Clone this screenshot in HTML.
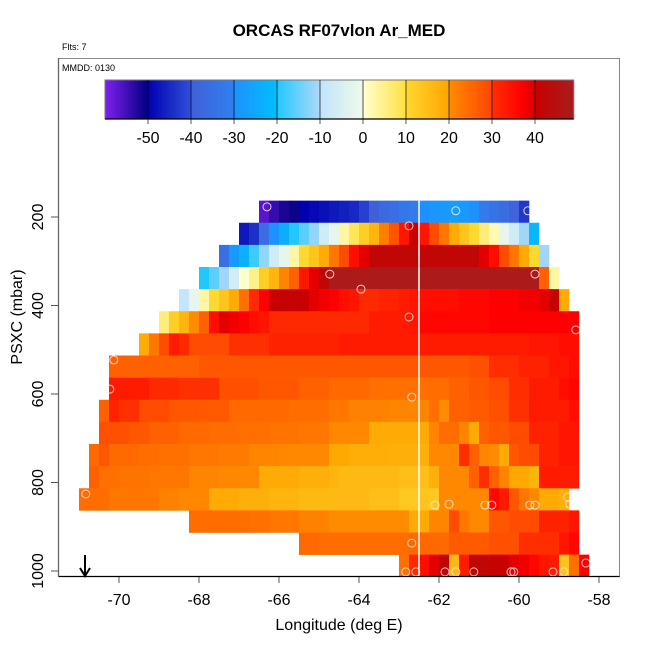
<!DOCTYPE html>
<html><head><meta charset="utf-8"><style>
html,body{margin:0;padding:0;background:#fff;}
svg{display:block;font-family:"Liberation Sans",Arial,sans-serif;}
</style></head><body>
<svg id="chart" width="650" height="650" viewBox="0 0 650 650" xmlns="http://www.w3.org/2000/svg">
<text x="339" y="36" text-anchor="middle" font-size="17" font-weight="bold">ORCAS RF07vlon Ar_MED</text>
<text x="62" y="50" font-size="9">Flts: 7</text>
<rect x="58.5" y="58.5" width="561" height="518" fill="none" stroke="#888" stroke-width="1"/>
<text x="62" y="71" font-size="9">MMDD: 0130</text>
<g id="colorbar"></g>
<g id="cells"></g>
<g id="circles"></g>
<g id="axes"></g>
<text x="339" y="630" text-anchor="middle" font-size="16">Longitude (deg E)</text>
<text x="0" y="0" transform="translate(22,317) rotate(-90)" text-anchor="middle" font-size="16">PSXC (mbar)</text>
<g>
<line x1="85" y1="555" x2="85" y2="575" stroke="#000" stroke-width="2"/>
<polyline points="80,568 85,576 90,568" fill="none" stroke="#000" stroke-width="2"/>
</g>
</svg>
<script>
const rowStart = [18,16,14,12,10,8,6,3,3,2,2,1,1,0,11,22,32];
function rep(v,n){return Array(n).fill(v);}
const row0 = [-57,-54,-52,-51,-50,-49,-48,-47,-46,-45,-42,-40,-37,-35,-33,-32,-30,-29,-28,-27,-28,-30,-32,-34,-36,-39,-43];
const row1 = [-47,-44,-36,-30,-24,-20,-16,-12,-7,-2,3,8,12,17,22,28,34,40,34,29,23,19,14,10,6,2,-2,-7,-11,-22];
const row2 = [-35,-28,-23,-18,-12,-7,-2,3,10,14,19,23,29,35,39,42,42,42,42,42,42,42,42,42,42,42,39,35,29,23,19,10,-11];
const row3 = [-20,-16,-11,-6,0,5,12,17,21,26,34,39,42].concat(rep(48,21),[26,3]);
const row4 = [-9,-2,3,10,14,19,24,31,37,40,41,41,40,39,38,37,35,34,31,31,32,32,33,34,35,35,35,35,36,36,36,37,37,37,38,38,39,41,19];
const row5 = [6,12,17,20,26,35,39,38,37,35,34].concat(rep(31,10),rep(33,4),[34],rep(36,7),rep(37,9));
const row6 = [19,23,29,33,31].concat(rep(29,4),rep(30,4),rep(32,7),rep(33,19),rep(34,3),rep(35,2));
const row7 = rep(26,9).concat(rep(27.5,27),rep(28.5,2),rep(30.5,3),rep(32,3),rep(34,2),[35]);
const row8 = rep(33,4).concat(rep(31,3),rep(30,4),rep(28.5,4),rep(27.5,4),rep(26,3),rep(25,4),rep(24,4),[24,24,24.5,24.5,26,26,27.5,27.5,29,29,30.5,30.5,33,33,33,35,36]);
const row9 = [26,32,30,30,29,29,29,27.5,27.5,27.5,27,27,27].concat(rep(25,6),rep(24.5,4),[23,23],rep(21.5,4),rep(21,4),[24,20,26,26,27,27,28.5,28.5,30,30,33,33,33,33,35]);
const row10 = [28.5,28.5,28.5,27.5,27.5,26,26,26,25,25,25,24.5,24.5,24.5,24,24,24,23.5,23.5,23.5,23,23,23].concat(rep(20.5,4),rep(19,6),[21,24.5,24.5,21,19,26,27.5,27.5,29,29,32,32,32,34,34]);
const row11 = [25,27.5,25,25,25,24.5,24.5,24,24,24,23,23,23,22.5,22.5,22.5,21,21,21].concat(rep(20.5,5),[19.5,19.5],rep(18.5,4),rep(18,4),[20.5,20.5,20.5,30.5,26,21,20,19,27.5,29,29,32,32,34,34]);
const row12 = [26,24,24,23.5,23.5,23.5,23,23,23,23,21,21,21].concat(rep(20.5,4),rep(19,4),rep(18,3),[17],rep(16,6),rep(15,3),[18,20.5,20.5,20.5,26,30.5,26,21,19.5,19.5,17],rep(33,4));
const row13 = [24.5,24.5,24.5].concat(rep(23,5),[21.5,21.5],rep(20.5,3),rep(19,3),rep(18,3),rep(17,3),rep(16,7),rep(15,3),[13,13,14,13],rep(20.5,5),[36,33,27.5,23,20.5,19,19,18]);
const row14 = rep(24.5,6).concat([24,24,23,23,23,21.5,21.5,21.5],rep(20,8),[19,19,21,21,29,23,20.5,20.5,27.5,27.5,29,29,29,32,32,32,34]);
const row15 = [25,25].concat(rep(24.5,9),rep(25,4),rep(27,4),rep(28.5,3),rep(30.5,4),[34,36]);
const row16 = [24,31,35,39,42,16,33,42,42,41,40,39,38,36,34,33,14,24,37];
const rowValues = [row0,row1,row2,row3,row4,row5,row6,row7,row8,row9,row10,row11,row12,row13,row14,row15,row16];
const pTop = 163, pStep = 50, lonStart = -71, lonStep = 0.25;
const circleLon = [-66.30,-61.58,-59.78,-62.75,-64.73,-59.60,-63.95,-62.75,-58.58,-70.13,-70.23,-62.68,-70.83,-62.10,-61.75,-60.85,-60.68,-59.73,-59.60,-58.78,-58.73,-62.68,-62.83,-62.58,-61.85,-61.58,-61.13,-60.20,-60.13,-59.15,-58.88,-58.33];
const circlePres = [177,186,186,220,329,329,363,426,455,523,589,607,826,851,849,851,851,851,851,833,849,937,1002,1002,1002,1002,1002,1002,1002,1002,1002,982];
const xTicks = [-70,-68,-66,-64,-62,-60,-58];
const yTicks = [200,400,600,800,1000];
const cbTicks = [-50,-40,-30,-20,-10,0,10,20,30,40];
const cbMin = -60, cbMax = 49;
const cursorLon = -62.5;

const NS = "http://www.w3.org/2000/svg";
function xS(lon){return 119 + (lon + 70) * 40;}
function yS(p){return 217 + (p - 200) * 0.4425;}
function cbX(v){return 105 + (v - cbMin) * 4.3;}
// colour segments [start value, end value, start colour, end colour]
const segs = [[-60,-50,[128,32,240],[0,0,128]],[-50,-40,[0,0,176],[48,80,216]],[-40,-30,[64,96,216],[48,128,240]],[-30,-20,[30,144,255],[0,191,255]],[-20,-10,[32,200,255],[176,216,248]],[-10,0,[192,228,252],[240,250,232]],[0,10,[255,255,208],[255,224,64]],[10,20,[255,216,48],[255,165,0]],[20,30,[255,140,0],[255,69,0]],[30,37,[255,48,0],[255,0,0]],[37,40,[255,0,0],[216,0,0]],[40,50,[200,0,0],[165,32,32]]];
function col(v){
  let s = segs[0];
  for (const g of segs) if (v >= g[0]) s = g;
  let t = Math.max(0, Math.min(1, (v - s[0]) / (s[1] - s[0])));
  const c = [0,1,2].map(i => Math.round(s[2][i] + (s[3][i] - s[2][i]) * t));
  return "rgb(" + c.join(",") + ")";
}
function mk(tag, attrs, parent){
  const e = document.createElementNS(NS, tag);
  for (const k in attrs) e.setAttribute(k, attrs[k]);
  parent.appendChild(e);
  return e;
}
const cb = document.getElementById("colorbar");
for (let v = cbMin; v < cbMax; v += 0.5) {
  const r = mk("rect", {x: cbX(v), y: 80, width: cbX(v + 0.5) - cbX(v) + 0.4, height: 39, fill: col(v + 0.25)}, cb);
  
  
}
mk("rect", {x: cbX(cbMin), y: 80, width: cbX(cbMax) - cbX(cbMin), height: 39, fill: "none", stroke: "#777", "stroke-width": 1}, cb);
mk("line", {x1: cbX(cbMin), y1: 119, x2: cbX(cbMax), y2: 119, stroke: "#000", "stroke-width": 1.2}, cb);
cbTicks.forEach(t => {
  const l = mk("line", {x1: cbX(t), y1: 80, x2: cbX(t), y2: 124, stroke: "rgba(0,0,0,0.55)", "stroke-width": 1.2}, cb);
  
  
  const tx = mk("text", {x: cbX(t), y: 143, "text-anchor": "middle", "font-size": 16}, cb);
  tx.textContent = String(t);
  
  
});
const cg = document.getElementById("cells");
rowValues.forEach((vals, i) => {
  const p0 = pTop + pStep * i, p1 = p0 + pStep;
  const y0 = yS(p0), y1 = Math.min(yS(p1), 576);
  vals.forEach((v, j) => {
    const lon = lonStart + lonStep * (rowStart[i] + j);
    const r = mk("rect", {x: xS(lon), y: y0, width: xS(lon + lonStep) - xS(lon) + 0.3, height: y1 - y0 + 0.3, fill: col(v)}, cg);
    
    
  });
});
const vl = mk("line", {x1: xS(cursorLon), y1: yS(pTop), x2: xS(cursorLon), y2: 576, stroke: "#fff", "stroke-width": 1.5}, cg);


const cc = document.getElementById("circles");
circleLon.forEach((lon, i) => {
  const c = mk("circle", {cx: xS(lon), cy: yS(circlePres[i]), r: 4, fill: "none", stroke: "rgba(255,235,235,0.85)", "stroke-width": 1}, cc);
  
  
});
const ax = document.getElementById("axes");
mk("line", {x1: 58.5, y1: 576.5, x2: 619.5, y2: 576.5, stroke: "#000", "stroke-width": 1.3}, ax);
mk("line", {x1: 58.5, y1: 58, x2: 58.5, y2: 577, stroke: "#666", "stroke-width": 1.3}, ax);
xTicks.forEach(t => {
  const l = mk("line", {x1: xS(t), y1: 577, x2: xS(t), y2: 583, stroke: "#555", "stroke-width": 1}, ax);
  
  
  const tx = mk("text", {x: xS(t), y: 605, "text-anchor": "middle", "font-size": 16}, ax);
  tx.textContent = String(t);
  
  
});
yTicks.forEach(t => {
  const l = mk("line", {x1: 51, y1: yS(t), x2: 58.5, y2: yS(t), stroke: "#555", "stroke-width": 1}, ax);
  
  
  const tx = mk("text", {x: 0, y: 0, transform: "translate(43," + yS(t) + ") rotate(-90)", "text-anchor": "middle", "font-size": 16}, ax);
  tx.textContent = String(t);
  
  
});
</script>
</body></html>
